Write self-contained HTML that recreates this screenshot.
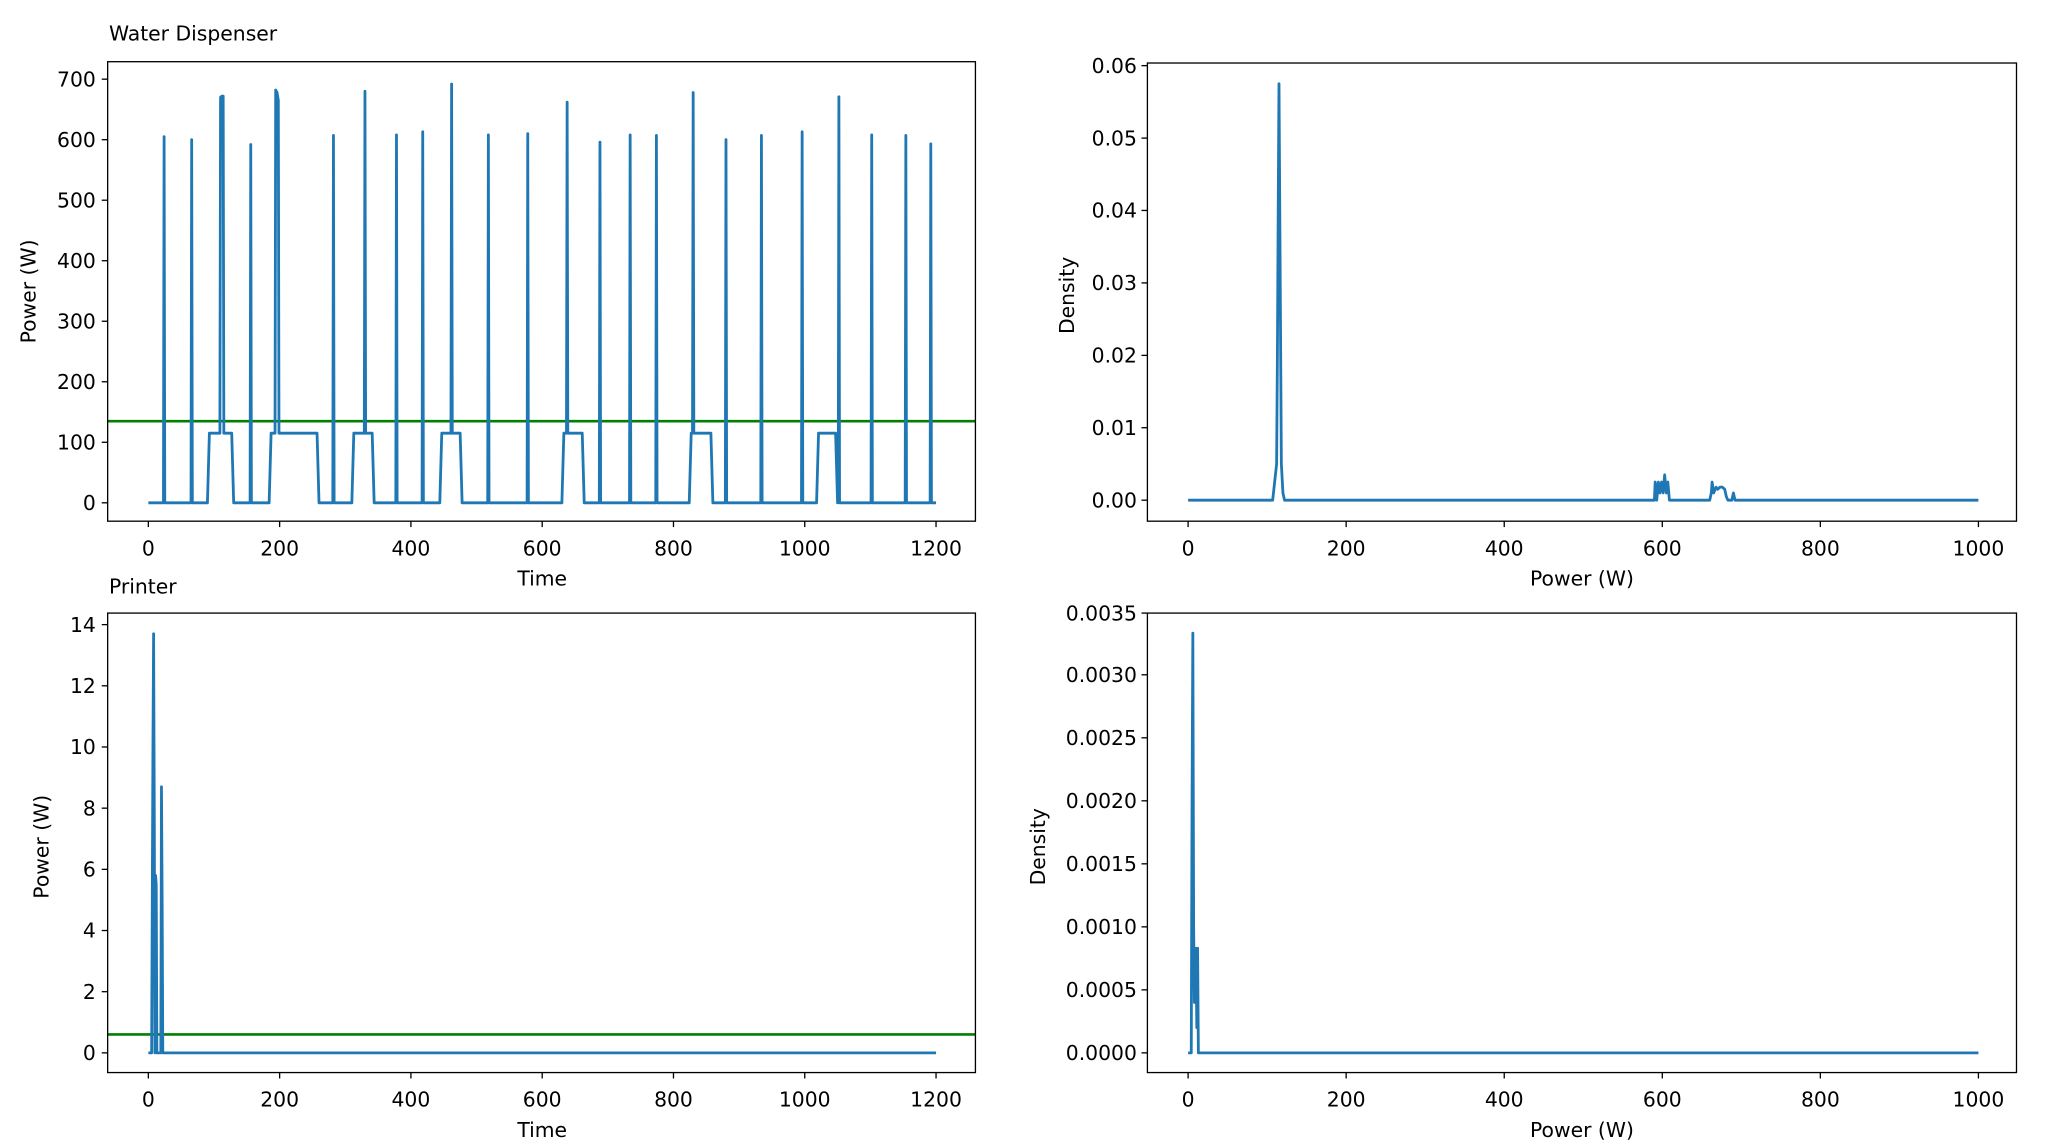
<!DOCTYPE html>
<html><head><meta charset="utf-8"><style>
html,body{margin:0;padding:0;background:#fff;width:2048px;height:1147px;overflow:hidden}
svg{display:block}
text{font-family:"DejaVu Sans","Liberation Sans",sans-serif;font-size:15.5px;fill:#000}
.ax{fill:none;stroke:#000;stroke-width:1}
.tk{stroke:#000;stroke-width:1}
.s{fill:none;stroke:#1f77b4;stroke-width:2.8;vector-effect:non-scaling-stroke;stroke-linejoin:round}
.g{stroke:#008000;stroke-width:2}
</style></head><body>
<svg width="2048" height="1147" viewBox="0 0 1560 873.7" preserveAspectRatio="none">
<rect width="1560" height="873.7" fill="#fff"/>

<!-- TL -->
<text x="83" y="31">Water Dispenser</text>
<line class="g" x1="82" y1="320.8" x2="743" y2="320.8"/>
<g transform="translate(113,383) scale(0.5,-0.461)">
<polyline class="s" points="0,0 23,0 24,605 25,0 65,0 66,600 67,0 90,0 93,115 109,115 110,670 112,672 114,672 115,115 127,115 130,0 155,0 156,592 157,0 184,0 187,115 193,115 194,682 196,678 198,665 199,115 257,115 260,0 281,0 282,607 283,0 310,0 313,115 329,115 330,680 331,115 341,115 344,0 377,0 378,608 379,0 417,0 418,613 419,0 444,0 447,115 461,115 462,692 463,115 475,115 478,0 517,0 518,608 519,0 577,0 578,610 579,0 630,0 633,115 637,115 638,662 639,115 661,115 664,0 687,0 688,596 689,0 733,0 734,608 735,0 773,0 774,607 775,0 824,0 827,115 829,115 830,678 831,115 857,115 860,0 879,0 880,600 881,0 933,0 934,607 935,0 995,0 996,613 997,0 1018,0 1021,115 1047,115 1050,0 1051,0 1052,671 1053,0 1101,0 1102,608 1103,0 1153,0 1154,607 1155,0 1191,0 1192,593 1193,0 1200,0"/>
</g>
<rect class="ax" x="82" y="47" width="661" height="350"/>
<g class="tk">
<line x1="113" y1="397" x2="113" y2="401.5"/><line x1="213" y1="397" x2="213" y2="401.5"/><line x1="313" y1="397" x2="313" y2="401.5"/><line x1="413" y1="397" x2="413" y2="401.5"/><line x1="513" y1="397" x2="513" y2="401.5"/><line x1="613" y1="397" x2="613" y2="401.5"/><line x1="713" y1="397" x2="713" y2="401.5"/>
<line x1="77.5" y1="383" x2="82" y2="383"/><line x1="77.5" y1="336.9" x2="82" y2="336.9"/><line x1="77.5" y1="290.8" x2="82" y2="290.8"/><line x1="77.5" y1="244.7" x2="82" y2="244.7"/><line x1="77.5" y1="198.6" x2="82" y2="198.6"/><line x1="77.5" y1="152.5" x2="82" y2="152.5"/><line x1="77.5" y1="106.4" x2="82" y2="106.4"/><line x1="77.5" y1="60.3" x2="82" y2="60.3"/>
</g>
<g text-anchor="middle">
<text x="113" y="423">0</text><text x="213" y="423">200</text><text x="313" y="423">400</text><text x="413" y="423">600</text><text x="513" y="423">800</text><text x="613" y="423">1000</text><text x="713" y="423">1200</text>
<text x="413" y="446">Time</text>
</g>
<g text-anchor="end">
<text x="73" y="388.5">0</text><text x="73" y="342.4">100</text><text x="73" y="296.3">200</text><text x="73" y="250.2">300</text><text x="73" y="204.1">400</text><text x="73" y="158">500</text><text x="73" y="111.9">600</text><text x="73" y="65.8">700</text>
</g>
<text transform="translate(27,222) rotate(-90)" text-anchor="middle">Power (W)</text>

<!-- TR -->
<g transform="translate(905,381) scale(0.602,-5517)">
<polyline class="s" points="0,0 107,0 110,0.003 112,0.005 113,0.02 114,0.04 115,0.0575 116,0.04 118,0.005 120,0.001 122,0 590,0 591,0.0025 593,0 595,0.0025 597,0.001 599,0.0025 601,0.001 603,0.0035 605,0.001 607,0.0025 609,0 660,0 662,0.001 663,0.0025 665,0.001 668,0.0018 670,0.0015 673,0.0018 676,0.0018 679,0.0015 681,0.0005 683,0 688,0 690,0.001 692,0 1000,0"/>
</g>
<rect class="ax" x="874" y="48" width="662" height="349"/>
<g class="tk">
<line x1="905" y1="397" x2="905" y2="401.5"/><line x1="1025.4" y1="397" x2="1025.4" y2="401.5"/><line x1="1145.8" y1="397" x2="1145.8" y2="401.5"/><line x1="1266.2" y1="397" x2="1266.2" y2="401.5"/><line x1="1386.6" y1="397" x2="1386.6" y2="401.5"/><line x1="1507" y1="397" x2="1507" y2="401.5"/>
<line x1="869.5" y1="381" x2="874" y2="381"/><line x1="869.5" y1="325.8" x2="874" y2="325.8"/><line x1="869.5" y1="270.7" x2="874" y2="270.7"/><line x1="869.5" y1="215.5" x2="874" y2="215.5"/><line x1="869.5" y1="160.3" x2="874" y2="160.3"/><line x1="869.5" y1="105.2" x2="874" y2="105.2"/><line x1="869.5" y1="50" x2="874" y2="50"/>
</g>
<g text-anchor="middle">
<text x="905" y="423">0</text><text x="1025.4" y="423">200</text><text x="1145.8" y="423">400</text><text x="1266.2" y="423">600</text><text x="1386.6" y="423">800</text><text x="1507" y="423">1000</text>
<text x="1205" y="446">Power (W)</text>
</g>
<g text-anchor="end">
<text x="866" y="386.5">0.00</text><text x="866" y="331.3">0.01</text><text x="866" y="276.2">0.02</text><text x="866" y="221">0.03</text><text x="866" y="165.8">0.04</text><text x="866" y="110.7">0.05</text><text x="866" y="55.5">0.06</text>
</g>
<text transform="translate(818,225) rotate(-90)" text-anchor="middle">Density</text>

<!-- BL -->
<text x="83" y="452">Printer</text>
<line class="g" x1="82" y1="788" x2="743" y2="788"/>
<g transform="translate(113,802) scale(0.5,-23.3)">
<polyline class="s" points="0,0 5,0 7,10 8,13.7 9,8 10,0 11,5.8 12,5.5 13,0 19,0 20,8.7 21,5 22,0 1200,0"/>
</g>
<rect class="ax" x="82" y="467" width="661" height="350"/>
<g class="tk">
<line x1="113" y1="817" x2="113" y2="821.5"/><line x1="213" y1="817" x2="213" y2="821.5"/><line x1="313" y1="817" x2="313" y2="821.5"/><line x1="413" y1="817" x2="413" y2="821.5"/><line x1="513" y1="817" x2="513" y2="821.5"/><line x1="613" y1="817" x2="613" y2="821.5"/><line x1="713" y1="817" x2="713" y2="821.5"/>
<line x1="77.5" y1="802" x2="82" y2="802"/><line x1="77.5" y1="755.4" x2="82" y2="755.4"/><line x1="77.5" y1="708.8" x2="82" y2="708.8"/><line x1="77.5" y1="662.2" x2="82" y2="662.2"/><line x1="77.5" y1="615.6" x2="82" y2="615.6"/><line x1="77.5" y1="569" x2="82" y2="569"/><line x1="77.5" y1="522.4" x2="82" y2="522.4"/><line x1="77.5" y1="475.8" x2="82" y2="475.8"/>
</g>
<g text-anchor="middle">
<text x="113" y="843">0</text><text x="213" y="843">200</text><text x="313" y="843">400</text><text x="413" y="843">600</text><text x="513" y="843">800</text><text x="613" y="843">1000</text><text x="713" y="843">1200</text>
<text x="413" y="866">Time</text>
</g>
<g text-anchor="end">
<text x="73" y="807.5">0</text><text x="73" y="760.9">2</text><text x="73" y="714.3">4</text><text x="73" y="667.7">6</text><text x="73" y="621.1">8</text><text x="73" y="574.5">10</text><text x="73" y="527.9">12</text><text x="73" y="481.3">14</text>
</g>
<text transform="translate(37,645) rotate(-90)" text-anchor="middle">Power (W)</text>

<!-- BR -->
<g transform="translate(905,802) scale(0.602,-96000)">
<polyline class="s" points="0,0 4,0 5,0.002 6,0.00333 7,0.001 8,0.0004 9,0.0008 10,0.00083 11,0.0002 12,0.00083 13,0 1000,0"/>
</g>
<rect class="ax" x="874" y="467" width="662" height="350"/>
<g class="tk">
<line x1="905" y1="817" x2="905" y2="821.5"/><line x1="1025.4" y1="817" x2="1025.4" y2="821.5"/><line x1="1145.8" y1="817" x2="1145.8" y2="821.5"/><line x1="1266.2" y1="817" x2="1266.2" y2="821.5"/><line x1="1386.6" y1="817" x2="1386.6" y2="821.5"/><line x1="1507" y1="817" x2="1507" y2="821.5"/>
<line x1="869.5" y1="802" x2="874" y2="802"/><line x1="869.5" y1="754" x2="874" y2="754"/><line x1="869.5" y1="706" x2="874" y2="706"/><line x1="869.5" y1="658" x2="874" y2="658"/><line x1="869.5" y1="610" x2="874" y2="610"/><line x1="869.5" y1="562" x2="874" y2="562"/><line x1="869.5" y1="514" x2="874" y2="514"/><line x1="869.5" y1="467" x2="874" y2="467"/>
</g>
<g text-anchor="middle">
<text x="905" y="843">0</text><text x="1025.4" y="843">200</text><text x="1145.8" y="843">400</text><text x="1266.2" y="843">600</text><text x="1386.6" y="843">800</text><text x="1507" y="843">1000</text>
<text x="1205" y="866">Power (W)</text>
</g>
<g text-anchor="end">
<text x="866" y="807.5">0.0000</text><text x="866" y="759.5">0.0005</text><text x="866" y="711.5">0.0010</text><text x="866" y="663.5">0.0015</text><text x="866" y="615.5">0.0020</text><text x="866" y="567.5">0.0025</text><text x="866" y="519.5">0.0030</text><text x="866" y="472.5">0.0035</text>
</g>
<text transform="translate(796,645) rotate(-90)" text-anchor="middle">Density</text>
</svg>
</body></html>
